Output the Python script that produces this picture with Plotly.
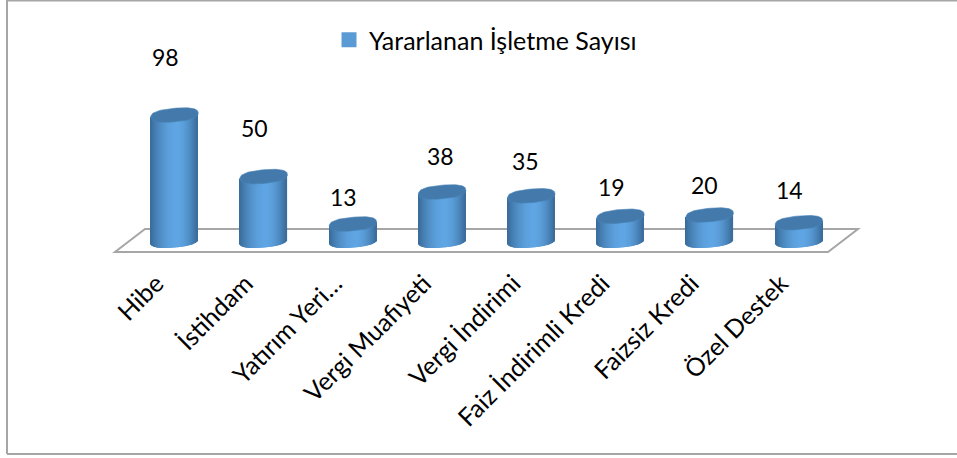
import numpy as np
import plotly.graph_objects as go

# ---- data ----
categories = ["Hibe", "İstihdam", "Yatırım Yeri…", "Vergi Muafiyeti", "Vergi İndirimi",
              "Faiz İndirimli Kredi", "Faizsiz Kredi", "Özel Destek"]
values = [98, 50, 13, 38, 35, 19, 20, 14]
series_name = "Yararlanan İşletme Sayısı"

# ---- geometry of the canvas (pixels) ----
W, H = 957, 458
X0, DX = 174.5, 89.2      # pixel of first category, pixels per category
Y0, DY = 240.7, 1.282     # pixel of value 0, pixels per unit
RX, RY, TILT = 23.7, 6.8, 2.0   # cylinder half width, ellipse half height, perspective tilt (px)
SUPER = 0.8               # rounder-than-ellipse exponent

label_dx = [-9, -9, -9, -2, -6, -9, -5, -9]
label_dy = [58, 49, 27, 36, 35, 29, 30, 33]

def lerp(c1, c2, t):
    return tuple(a + (b - a) * t for a, b in zip(c1, c2))

EDGE = (56, 106, 152)
MID = (96, 166, 228)
def strip_color(t):
    # t in [-1, 1] across the cylinder; brightest slightly right of centre
    peak = 0.12
    u = (t - peak) / (1 - peak) if t > peak else (peak - t) / (1 + peak)
    c = lerp(MID, EDGE, min(u, 1) ** 1.8)
    return "rgb(%d,%d,%d)" % c

fig = go.Figure()

offs = np.arange(-RX + 0.5, RX, 1.0)
tt = offs / RX
strip_colors = [strip_color(t) for t in tt]
phi = np.linspace(0, 2 * np.pi, 97)
c, s = np.cos(phi), np.sin(phi)
ring_x = np.sign(c) * np.abs(c) ** SUPER
ring_y = np.sign(s) * np.abs(s) ** SUPER

for i, v in enumerate(values):
    sx = i + offs / DX
    base_px = RY * (1 - np.abs(tt) ** (2 / SUPER)) ** (SUPER / 2) - TILT * tt   # below the centre, px
    base = -base_px / DY
    top = v + TILT * tt / DY
    fig.add_trace(go.Bar(
        x=sx, y=top - base, base=base, width=1.2 / DX,
        marker=dict(color=strip_colors, line=dict(width=0)),
        showlegend=False, hoverinfo="skip"))
    ex = i + RX * ring_x / DX
    ey = v + (RY * ring_y + TILT * ring_x) / DY
    fig.add_trace(go.Scatter(
        x=ex, y=ey, mode="lines", fill="toself", fillcolor="#437AAB",
        line=dict(width=0.6, color="#4A84B8"), showlegend=False, hoverinfo="skip"))

# legend entry
fig.add_trace(go.Scatter(
    x=[None], y=[None], mode="markers", name=series_name,
    marker=dict(symbol="square", size=15, color="#5B9BD5")))

FONT = "Lato, Carlito, Calibri, sans-serif"
annotations = []
for i, v in enumerate(values):
    annotations.append(dict(
        x=i, y=v, xref="x", yref="y", text=str(v), showarrow=False,
        xshift=label_dx[i], yshift=label_dy[i],
        font=dict(family=FONT, size=23, color="#000000")))

def px(x): return x / W
def py(y): return 1 - y / H

shapes = [
    # chart frame
    dict(type="line", xref="paper", yref="paper", x0=px(7), x1=px(7), y0=py(0), y1=py(454),
         line=dict(color="#A6A6A6", width=2)),
    dict(type="line", xref="paper", yref="paper", x0=px(7), x1=px(957), y0=py(454), y1=py(454),
         line=dict(color="#A6A6A6", width=2)),
    dict(type="line", xref="paper", yref="paper", x0=px(7), x1=px(957), y0=py(0.5), y1=py(0.5),
         line=dict(color="#A6A6A6", width=2)),
    # floor
    dict(type="path", xref="paper", yref="paper", layer="below",
         path="M %f %f L %f %f L %f %f L %f %f Z" % (
             px(115), py(252), px(828), py(252), px(858), py(229), px(145), py(229)),
         line=dict(color="#A6A6A6", width=2)),
]

fig.update_layout(
    width=W, height=H, margin=dict(l=0, r=0, t=0, b=0),
    paper_bgcolor="white", plot_bgcolor="white",
    barmode="overlay",
    font=dict(family=FONT, color="#000000"),
    xaxis=dict(range=[-X0 / DX, (W - X0) / DX], tickmode="array",
               tickvals=list(range(len(categories))), ticktext=categories,
               tickangle=-45, tickfont=dict(family=FONT, size=25),
               anchor="free", position=py(263), ticklabelshift=-18,
               showgrid=False, zeroline=False, showline=False, ticks=""),
    yaxis=dict(range=[(Y0 - H) / DY, Y0 / DY], visible=False),
    legend=dict(x=px(329), y=py(40), xanchor="left", yanchor="middle",
                font=dict(family=FONT, size=25), bgcolor="rgba(0,0,0,0)"),
    showlegend=True,
    annotations=annotations,
    shapes=shapes,
)

fig.write_html("out.html", config=dict(displayModeBar=False),
               post_script="document.body.style.margin='0';document.body.style.overflow='hidden';")
